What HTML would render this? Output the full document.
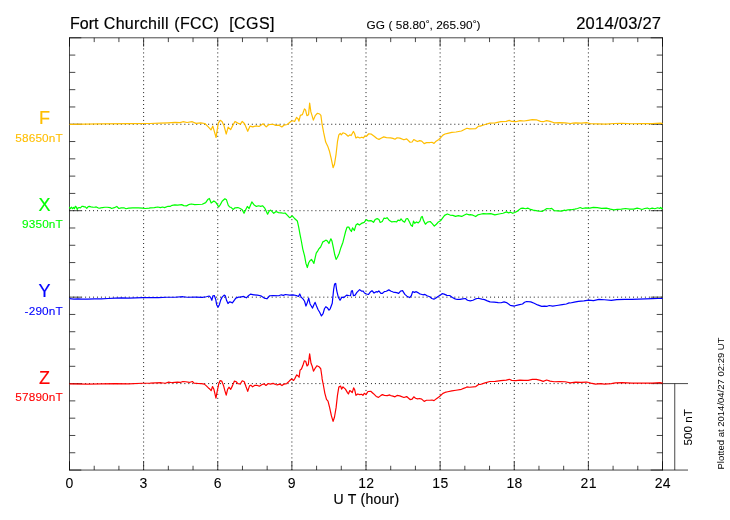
<!DOCTYPE html>
<html lang="en"><head><meta charset="utf-8"><title>Fort Churchill (FCC) magnetogram 2014/03/27</title>
<style>html,body{margin:0;padding:0;background:#fff}body{width:730px;height:520px;overflow:hidden}</style></head>
<body>
<svg width="730" height="520" viewBox="0 0 730 520" style="display:block">
<rect width="730" height="520" fill="#fff"/>
<g stroke="#000" stroke-opacity="0.9" stroke-width="1" stroke-dasharray="1 2.9705"><line x1="143.62" y1="37.8" x2="143.62" y2="470.05" stroke-dashoffset="1.27"/><line x1="217.75" y1="37.8" x2="217.75" y2="470.05" stroke-dashoffset="1.27"/><line x1="291.88" y1="37.8" x2="291.88" y2="470.05" stroke-dashoffset="1.27"/><line x1="366" y1="37.8" x2="366" y2="470.05" stroke-dashoffset="1.27"/><line x1="440.12" y1="37.8" x2="440.12" y2="470.05" stroke-dashoffset="1.27"/><line x1="514.25" y1="37.8" x2="514.25" y2="470.05" stroke-dashoffset="1.27"/><line x1="588.38" y1="37.8" x2="588.38" y2="470.05" stroke-dashoffset="1.27"/><line x1="69.5" y1="124.25" x2="662.5" y2="124.25" stroke-dashoffset="0.3"/><line x1="69.5" y1="210.7" x2="662.5" y2="210.7" stroke-dashoffset="0.3"/><line x1="69.5" y1="297.15" x2="662.5" y2="297.15" stroke-dashoffset="0.3"/><line x1="69.5" y1="383.6" x2="662.5" y2="383.6" stroke-dashoffset="0.3"/></g>
<g stroke="#000" stroke-opacity="0.72" stroke-width="1"><line x1="69.5" y1="37.3" x2="69.5" y2="470.55"/><line x1="662.5" y1="37.3" x2="662.5" y2="470.55"/><line x1="69.5" y1="37.8" x2="662.5" y2="37.8"/><line x1="69.5" y1="470.05" x2="662.5" y2="470.05"/><line x1="69.5" y1="37.8" x2="69.5" y2="46.6"/><line x1="69.5" y1="470.05" x2="69.5" y2="461.25"/><line x1="94.21" y1="37.8" x2="94.21" y2="42.1"/><line x1="94.21" y1="470.05" x2="94.21" y2="465.75"/><line x1="118.92" y1="37.8" x2="118.92" y2="42.1"/><line x1="118.92" y1="470.05" x2="118.92" y2="465.75"/><line x1="143.62" y1="37.8" x2="143.62" y2="46.6"/><line x1="143.62" y1="470.05" x2="143.62" y2="461.25"/><line x1="168.33" y1="37.8" x2="168.33" y2="42.1"/><line x1="168.33" y1="470.05" x2="168.33" y2="465.75"/><line x1="193.04" y1="37.8" x2="193.04" y2="42.1"/><line x1="193.04" y1="470.05" x2="193.04" y2="465.75"/><line x1="217.75" y1="37.8" x2="217.75" y2="46.6"/><line x1="217.75" y1="470.05" x2="217.75" y2="461.25"/><line x1="242.46" y1="37.8" x2="242.46" y2="42.1"/><line x1="242.46" y1="470.05" x2="242.46" y2="465.75"/><line x1="267.17" y1="37.8" x2="267.17" y2="42.1"/><line x1="267.17" y1="470.05" x2="267.17" y2="465.75"/><line x1="291.88" y1="37.8" x2="291.88" y2="46.6"/><line x1="291.88" y1="470.05" x2="291.88" y2="461.25"/><line x1="316.58" y1="37.8" x2="316.58" y2="42.1"/><line x1="316.58" y1="470.05" x2="316.58" y2="465.75"/><line x1="341.29" y1="37.8" x2="341.29" y2="42.1"/><line x1="341.29" y1="470.05" x2="341.29" y2="465.75"/><line x1="366" y1="37.8" x2="366" y2="46.6"/><line x1="366" y1="470.05" x2="366" y2="461.25"/><line x1="390.71" y1="37.8" x2="390.71" y2="42.1"/><line x1="390.71" y1="470.05" x2="390.71" y2="465.75"/><line x1="415.42" y1="37.8" x2="415.42" y2="42.1"/><line x1="415.42" y1="470.05" x2="415.42" y2="465.75"/><line x1="440.12" y1="37.8" x2="440.12" y2="46.6"/><line x1="440.12" y1="470.05" x2="440.12" y2="461.25"/><line x1="464.83" y1="37.8" x2="464.83" y2="42.1"/><line x1="464.83" y1="470.05" x2="464.83" y2="465.75"/><line x1="489.54" y1="37.8" x2="489.54" y2="42.1"/><line x1="489.54" y1="470.05" x2="489.54" y2="465.75"/><line x1="514.25" y1="37.8" x2="514.25" y2="46.6"/><line x1="514.25" y1="470.05" x2="514.25" y2="461.25"/><line x1="538.96" y1="37.8" x2="538.96" y2="42.1"/><line x1="538.96" y1="470.05" x2="538.96" y2="465.75"/><line x1="563.67" y1="37.8" x2="563.67" y2="42.1"/><line x1="563.67" y1="470.05" x2="563.67" y2="465.75"/><line x1="588.38" y1="37.8" x2="588.38" y2="46.6"/><line x1="588.38" y1="470.05" x2="588.38" y2="461.25"/><line x1="613.08" y1="37.8" x2="613.08" y2="42.1"/><line x1="613.08" y1="470.05" x2="613.08" y2="465.75"/><line x1="637.79" y1="37.8" x2="637.79" y2="42.1"/><line x1="637.79" y1="470.05" x2="637.79" y2="465.75"/><line x1="662.5" y1="37.8" x2="662.5" y2="46.6"/><line x1="662.5" y1="470.05" x2="662.5" y2="461.25"/><line x1="69.5" y1="37.8" x2="81.3" y2="37.8"/><line x1="662.5" y1="37.8" x2="650.7" y2="37.8"/><line x1="69.5" y1="55.09" x2="75.3" y2="55.09"/><line x1="662.5" y1="55.09" x2="656.7" y2="55.09"/><line x1="69.5" y1="72.38" x2="75.3" y2="72.38"/><line x1="662.5" y1="72.38" x2="656.7" y2="72.38"/><line x1="69.5" y1="89.67" x2="75.3" y2="89.67"/><line x1="662.5" y1="89.67" x2="656.7" y2="89.67"/><line x1="69.5" y1="106.96" x2="75.3" y2="106.96"/><line x1="662.5" y1="106.96" x2="656.7" y2="106.96"/><line x1="69.5" y1="124.25" x2="81.3" y2="124.25"/><line x1="662.5" y1="124.25" x2="650.7" y2="124.25"/><line x1="69.5" y1="141.54" x2="75.3" y2="141.54"/><line x1="662.5" y1="141.54" x2="656.7" y2="141.54"/><line x1="69.5" y1="158.83" x2="75.3" y2="158.83"/><line x1="662.5" y1="158.83" x2="656.7" y2="158.83"/><line x1="69.5" y1="176.12" x2="75.3" y2="176.12"/><line x1="662.5" y1="176.12" x2="656.7" y2="176.12"/><line x1="69.5" y1="193.41" x2="75.3" y2="193.41"/><line x1="662.5" y1="193.41" x2="656.7" y2="193.41"/><line x1="69.5" y1="210.7" x2="81.3" y2="210.7"/><line x1="662.5" y1="210.7" x2="650.7" y2="210.7"/><line x1="69.5" y1="227.99" x2="75.3" y2="227.99"/><line x1="662.5" y1="227.99" x2="656.7" y2="227.99"/><line x1="69.5" y1="245.28" x2="75.3" y2="245.28"/><line x1="662.5" y1="245.28" x2="656.7" y2="245.28"/><line x1="69.5" y1="262.57" x2="75.3" y2="262.57"/><line x1="662.5" y1="262.57" x2="656.7" y2="262.57"/><line x1="69.5" y1="279.86" x2="75.3" y2="279.86"/><line x1="662.5" y1="279.86" x2="656.7" y2="279.86"/><line x1="69.5" y1="297.15" x2="81.3" y2="297.15"/><line x1="662.5" y1="297.15" x2="650.7" y2="297.15"/><line x1="69.5" y1="314.44" x2="75.3" y2="314.44"/><line x1="662.5" y1="314.44" x2="656.7" y2="314.44"/><line x1="69.5" y1="331.73" x2="75.3" y2="331.73"/><line x1="662.5" y1="331.73" x2="656.7" y2="331.73"/><line x1="69.5" y1="349.02" x2="75.3" y2="349.02"/><line x1="662.5" y1="349.02" x2="656.7" y2="349.02"/><line x1="69.5" y1="366.31" x2="75.3" y2="366.31"/><line x1="662.5" y1="366.31" x2="656.7" y2="366.31"/><line x1="69.5" y1="383.6" x2="81.3" y2="383.6"/><line x1="662.5" y1="383.6" x2="650.7" y2="383.6"/><line x1="69.5" y1="400.89" x2="75.3" y2="400.89"/><line x1="662.5" y1="400.89" x2="656.7" y2="400.89"/><line x1="69.5" y1="418.18" x2="75.3" y2="418.18"/><line x1="662.5" y1="418.18" x2="656.7" y2="418.18"/><line x1="69.5" y1="435.47" x2="75.3" y2="435.47"/><line x1="662.5" y1="435.47" x2="656.7" y2="435.47"/><line x1="69.5" y1="452.76" x2="75.3" y2="452.76"/><line x1="662.5" y1="452.76" x2="656.7" y2="452.76"/><line x1="69.5" y1="470.05" x2="81.3" y2="470.05"/><line x1="662.5" y1="470.05" x2="650.7" y2="470.05"/><line x1="662.5" y1="383.6" x2="688" y2="383.6"/><line x1="662.5" y1="470.05" x2="688" y2="470.05"/><line x1="674.75" y1="383.6" x2="674.75" y2="470.05"/></g>
<g fill="none" stroke-width="1.2" stroke-linejoin="round"><polyline points="69.5,124.3 85,124.1 100,123.9 130,123.6 150,123.5 160,123.2 168,122.8 175,122.4 180.2,122.67 182.94,121.71 187.05,122.53 192.25,121.71 195.95,123.35 200.75,122.8 204.86,123.49 208.28,126.91 211.02,129.93 212.8,126.09 216.09,137.46 218.28,123.08 220.2,120.34 221.98,121.43 224.04,125.82 226.23,134.04 228.15,127.19 230.61,129.65 232.94,125.13 234.99,121.43 237.73,123.08 240.47,124.17 242.25,121.43 244.58,123.76 247.73,131.3 250.06,126.09 252.8,126.91 256.23,125.82 258.97,126.5 263.08,123.76 266.23,126.91 268.56,124.72 272.94,124.23 275.68,125.32 279.1,125.19 281.84,126.97 283.9,125.19 287.32,124.5 290.75,121.49 292.8,120.8 294.58,121.49 296.5,117.38 298.01,118.75 298.97,121.21 300.34,115.32 302.39,114.64 304.45,108.88 305.54,109.84 306.91,115.73 308.56,114.64 309.65,102.99 310.88,111.9 311.98,115.32 313.35,120.12 315.41,115.32 317.46,113.27 319.52,113.95 320.88,115.32 321.98,123.54 323.62,132.45 325.68,142.04 327.73,146.15 329.38,150.94 331.16,158.47 333.08,167.73 334.45,164.31 336.09,154.04 337.46,141.71 338.83,134.86 340.2,133.49 341.3,134.86 342.94,132.8 345.41,133.76 348.15,136.23 349.79,134.86 351.16,135.54 353.35,131.43 354.58,133.49 355.95,138.01 357.73,136.91 359.79,138.01 361.84,137.19 363.49,137.87 364.86,135.82 366.5,136.23 368.69,133.76 371.43,134.17 374.17,136.23 376.91,138.56 378.97,139.38 381.02,138.28 383.76,136.91 386.5,137.6 390.61,137.87 392.94,138.42 394.99,139.24 397.05,137.73 399.79,138.15 403.9,139.79 406.64,138.83 410.06,142.25 412.12,141.98 413.76,139.52 415.54,140.61 417.6,141.57 419.65,140.61 421.71,141.16 424.17,143.62 426.5,142.67 429.93,142.53 431.98,142.25 434.04,143.35 436.09,141.16 438.83,139.52 440.88,137.46 442.94,135.13 444.99,134.04 447.73,133.35 451.84,132.39 455.95,131.98 461.43,131.02 464.86,129.24 466.91,128.28 469.65,128.83 475.82,128.56 478.56,126.09 480.2,126.09 484.31,124.72 489.79,123.08 495.27,122.8 500.75,121.71 506.23,121.43 509.24,120.34 511.71,121.43 515.82,121.71 519.93,120.61 524.04,121.02 528.15,120.34 532.25,119.65 536.36,119.79 540.47,121.43 543.21,121.71 546.64,120.61 550.06,121.43 554.17,122.8 559.65,122.67 565.13,122.8 570.61,123.49 572.94,123.08 575.68,122.8 581.16,123.08 586.64,122.67 590.75,123.76 597.6,123.9 605.82,124.04 614.04,123.49 622.25,123.35 631.84,123.76 641.43,123.62 652.39,123.62 660.61,123.08 662.67,123.62" stroke="#ffbe00"/>
<polyline points="69.32,206.95 70.35,208.68 71.5,207.24 72.54,208.68 73.52,207.41 74.38,208.68 75.41,206.26 76.39,207.24 77.26,209.54 78.12,207.82 79.27,207.53 80.42,207.82 81.86,206.38 83.01,206.26 84.16,206.84 85.31,206.95 86.75,208.39 88.19,206.67 89.34,206.38 91.06,206.84 92.79,207.07 94.52,207.24 96.24,206.95 97.97,207.82 99.41,208.22 100.85,207.82 102.57,207.53 104.87,207.24 107.18,207.24 110.05,207.53 111.57,208.49 114.31,207.67 116.78,206.43 118.83,208.49 121.16,207.8 123.9,207.8 125.95,208.76 128.69,208.08 132.8,207.8 138.28,207.8 142.39,208.08 145.13,208.49 149.24,208.08 150.2,207.8 154.31,207.67 157.73,206.98 160.47,207.67 162.53,206.98 164.58,207.67 168.01,206.3 170.06,206.43 172.12,205.34 174.86,204.93 177.6,205.06 181.71,204.65 183.76,205.61 186.5,205.88 188.56,204.65 191.3,203.97 194.72,204.65 198.15,204.52 202.25,204.24 205.68,202.6 207.73,199.58 209.38,198.49 211.16,203.01 213.9,200.95 215.68,202.19 217.32,204.65 218.69,206.98 220.34,204.65 222.12,201.23 224.86,198.76 226.5,199.86 228.28,205.34 229.65,206.98 231.02,207.39 233.08,209.45 235.13,207.8 237.87,207.53 240.2,208.49 242.25,209.86 244.04,213.28 245.95,209.17 247.32,206.43 249.1,208.49 251.84,201.91 253.9,204.65 256.36,206.43 258.69,205.75 260.75,206.43 262.53,205.75 264.58,207.8 266.23,211.23 267.6,214.24 269.24,210.95 270.61,210.13 272.39,211.91 273.76,213.28 276.09,211.5 278.56,212.6 281.3,212.87 283.35,213.28 285.13,213.01 287.46,215.34 289.52,217.67 290.2,217.53 292.25,215.88 294.31,218.21 297.32,220.95 298.69,227.12 300.06,234.65 301.43,241.5 302.8,249.04 304.58,255.88 305.95,263.42 307.32,267.53 308.69,262.73 310.06,260.68 311.43,259.31 312.8,261.36 313.9,263.42 315.13,257.94 316.23,253.15 317.6,251.09 318.97,248.76 320.61,246.98 322.8,241.91 324.45,241.09 325.82,240.13 327.46,241.09 328.97,243.56 329.93,241.09 330.88,238.76 331.98,241.09 333.35,247.67 334.72,254.52 336.09,259.31 337.46,257.25 339.24,253.15 340.88,247.67 342.94,242.19 344.31,236.71 345.68,231.23 347.05,227.12 348.83,227.12 350.2,229.86 351.43,231.5 352.53,227.8 354.31,230.54 355.95,225.06 357.6,223.69 359.38,225.06 361.43,223.42 364.17,222.32 366.23,219.58 368.28,220.95 371.02,220.54 373.49,222.32 375.13,219.58 377.19,218.62 378.97,219.58 380.2,222.46 382.25,221.5 384.04,218.08 385.68,218.49 387.05,217.67 389.1,220.13 391.84,221.91 394.58,221.5 396.64,221.91 398.01,220.13 400.06,220.54 401.02,218.76 402.8,221.09 404.58,222.19 406.23,218.76 407.6,218.49 409.24,221.5 411.02,225.2 412.39,226.3 413.49,221.09 414.72,223.28 416.5,221.91 418.28,222.87 419.93,221.09 421.3,216.98 422.25,216.43 423.35,220.13 425.41,224.24 427.46,222.19 430.2,221.5 432.25,223.56 434.31,226.02 436.36,224.24 438.42,221.91 440.47,220.82 442.53,218.08 444.58,215.34 447.32,213.97 450.06,215.06 452.8,215.34 455.54,216.43 458.28,215.61 461.71,216.43 464.45,214.93 466.5,213.97 469.24,214.93 470.2,214.65 472.94,215.2 475.68,216.57 477.73,214.93 480.47,214.24 483.21,213.56 486.64,213.97 490.75,213.56 494.86,214.93 498.97,213.97 503.08,213.28 506.5,211.91 508.56,212.87 510.61,212.19 512.67,213.28 514.72,212.46 517.46,211.09 520.88,208.35 522.94,208.08 525.68,208.76 527.73,208.08 530.47,209.45 533.21,210.13 537.32,210.82 542.12,211.5 544.86,209.86 546.91,208.49 549.65,208.76 551.71,208.35 554.04,210.54 557.87,210.82 561.3,211.09 564.72,210.13 565.2,210.54 567.94,209.86 571.36,209.72 574.79,209.17 577.53,208.49 580.27,207.53 582.32,208.49 585.75,207.8 589.86,208.08 593.28,207.39 597.39,207.67 601.5,208.35 606.3,208.08 610.41,209.17 613.83,209.86 617.25,209.45 621.36,209.04 625.47,208.49 629.58,209.17 633.69,209.17 637.12,208.08 639.86,208.76 641.91,209.45 644.65,208.49 647.39,208.08 649.45,209.04 652.19,208.08 654.93,208.76 657.67,207.8 659.72,208.49 660.68,207.39 661.78,208.76 662.73,208.08" stroke="#00ff00"/>
<polyline points="69.52,298.64 73.9,299.19 78.01,298.91 82.12,299.19 87.6,299.19 94.45,298.91 101.3,298.78 108.15,298.5 114.99,298.09 121.84,297.82 128.69,298.09 135.54,297.82 142.39,297.54 149.24,297.54 150.2,297.54 158.42,297.54 166.64,297.27 174.86,297.27 183.08,296.72 187.19,297.27 195.41,297.13 202.25,297.41 206.36,296.72 209.1,296.04 210.47,297.13 211.84,300.28 212.94,295.76 214.31,295.49 215.68,299.19 216.64,304.67 218.01,307.13 219.38,304.67 220.75,299.87 222.12,297.13 224.17,295.08 225.27,295.76 226.64,300.56 228.01,303.57 229.38,301.93 231.02,302.2 232.39,302.88 234.04,300.56 235.82,298.09 238.56,297.13 240.2,297.13 243.62,296.45 246.36,297.82 248.42,295.76 250.47,294.12 253.9,294.8 257.32,295.08 260.75,295.76 264.17,298.09 266.91,298.78 269.65,295.76 273.08,295.49 278.56,295.76 281.3,294.8 283.35,295.35 285.41,294.53 289.52,295.08 292.94,294.8 296.36,295.49 298.42,296.45 299.79,293.98 301.16,297.13 303.21,299.19 304.58,301.24 305.95,306.04 307.32,302.61 308.69,298.09 310.06,303.98 311.43,306.31 312.53,308.09 313.9,304.67 315.13,302.34 316.5,306.04 318.01,309.46 319.65,312.2 321.43,315.9 323.08,313.57 324.45,308.78 325.82,306.72 327.6,308.09 328.97,310.15 330.2,308.78 332.25,303.3 333.62,289.6 334.58,284.12 335.68,283.43 336.78,290.97 338.42,297.54 340.06,300.28 341.84,297.13 343.9,297.54 346.64,295.08 348.69,295.49 350.47,295.76 351.43,290.97 352.39,290.69 353.49,295.76 355.13,295.08 356.91,292.34 359.65,289.6 361.71,291.24 363.08,290.97 364.45,293.02 366.5,293.98 368.56,294.39 370.61,291.65 371.98,290.69 374.04,293.02 376.09,291.65 377.46,292.06 378.83,290.97 380.88,293.43 382.25,293.43 384.31,291.65 386.36,291.24 388.83,289.87 391.16,291.24 393.21,292.06 396.64,292.61 398.69,293.43 400.75,290.97 402.53,290.69 404.86,294.39 406.91,296.17 409.65,297.54 411.3,295.76 412.67,291.65 414.45,292.34 416.23,291.65 417.87,292.61 419.93,293.98 420.2,293.98 422.94,294.8 424.99,294.39 427.05,295.76 429.79,296.72 431.84,298.5 433.9,299.19 435.95,298.09 438.01,296.45 440.47,295.08 442.12,293.71 444.17,294.12 446.91,295.35 449.65,295.49 452.39,297.54 455.13,298.91 457.19,299.46 459.93,299.46 462.67,298.91 465.41,298.5 467.46,300.28 470.2,300.83 472.94,300.28 474.99,299.19 477.05,298.5 479.1,298.5 481.84,299.19 484.58,299.6 487.32,300.83 490.06,301.93 494.17,302.2 498.28,302.61 501.02,302.75 504.04,301.93 506.5,302.61 509.24,304.39 510.2,305.35 514.31,306.04 518.42,304.94 522.53,303.98 524.58,302.2 526.64,301.52 530.75,301.93 534.17,303.3 537.6,304.94 541.71,306.31 544.45,306.04 547.19,306.31 549.24,305.49 552.67,306.04 556.78,305.49 562.25,304.67 566.36,303.98 569.1,302.88 570.2,303.02 574.31,302.2 578.42,301.38 583.9,300.83 588.69,300.15 593.49,300.56 598.97,299.46 604.45,299.73 611.3,300.28 616.78,299.6 624.99,299.46 631.84,299.32 638.69,299.19 645.54,298.91 652.39,298.64 657.87,298.5 662.67,298.5" stroke="#0000ff"/>
<polyline points="69.52,383.82 87.6,384.09 101.3,383.82 114.99,383.54 128.69,383.82 142.39,383.27 150.2,383.13 155.68,382.86 161.16,382.72 165.27,383.27 168.69,382.17 172.12,382.72 177.6,382.17 180.34,382.45 182.8,381.49 185.82,381.76 189.24,382.45 192.39,381.49 194.04,383.13 197.46,383.41 201.57,383.54 204.31,384.09 206.36,385.87 208.42,387.93 209.79,389.02 211.16,390.67 212.53,386.56 213.9,389.3 215.95,398.2 217.32,390.67 218.69,384.09 220.06,380.67 221.71,381.08 223.49,385.46 224.86,390.67 226.23,395.19 227.6,389.3 228.97,387.24 230.75,389.3 232.39,385.87 234.45,381.08 236.23,381.76 237.87,383.54 239.93,383.82 240.2,384.09 242.25,380.8 244.31,381.76 245.95,386.56 247.73,391.35 249.52,385.87 250.88,385.19 252.53,386.83 254.58,385.46 257.32,385.46 259.38,386.15 262.12,384.5 264.17,383.82 265.95,385.46 268.28,383.54 270.34,384.09 273.08,383.41 275.54,384.5 277.19,384.91 279.65,384.09 281.98,385.6 284.04,384.09 286.78,383.54 289.52,380.8 291.57,379.02 293.62,380.39 294.99,378.34 296.64,374.91 297.73,375.6 299.1,377.24 300.06,370.12 301.43,369.02 302.94,365.32 304.31,360.8 305.68,361.21 307.05,366.01 308.28,364.64 309.65,353.95 311.02,363.27 312.12,366.01 313.49,371.21 315.27,368.06 316.91,365.73 318.97,366.69 320.75,368.75 321.98,376.97 322.12,378.9 323.49,385.75 324.86,393.28 326.5,399.45 328.01,401.09 329.65,407.67 331.43,415.88 333.08,421.36 334.45,417.25 336.09,407.67 337.46,395.34 338.83,387.12 340.61,386.02 341.57,389.17 342.94,386.84 345.41,389.17 347.46,392.6 348.42,393.97 349.79,390.54 351.16,391.5 352.25,392.6 353.62,387.8 354.72,389.86 355.95,395.34 357.73,393.97 359.79,394.65 361.57,394.24 362.94,395.34 364.31,393.28 365.95,394.65 368.01,391.5 370.75,391.23 373.49,393.69 376.23,396.43 378.56,397.39 381.02,395.34 382.39,394.65 384.45,395.34 387.19,395.61 389.93,394.93 390.2,395.46 392.94,396.15 394.99,396.83 397.05,395.46 399.79,395.87 403.9,397.52 406.64,396.56 410.06,399.57 412.12,399.16 413.76,396.83 415.54,398.2 417.6,398.88 419.65,398.47 421.71,399.16 424.17,401.35 426.5,400.25 429.93,400.25 431.98,399.98 434.04,400.67 436.09,398.88 438.83,397.1 440.88,395.19 442.94,393.41 444.99,392.45 447.73,391.76 451.84,390.94 455.95,390.25 461.43,389.3 464.86,387.93 466.91,386.97 469.65,387.24 475.82,386.56 478.56,384.5 480.2,384.5 484.31,383.13 489.79,381.49 495.27,381.35 500.75,380.67 506.23,380.12 509.24,379.3 511.71,380.39 515.82,380.67 519.93,380.12 524.04,380.39 528.15,380.39 532.25,379.43 536.36,379.3 540.47,380.39 543.21,381.35 546.64,379.98 550.06,381.08 554.17,381.76 559.65,381.49 565.13,381.76 570.2,382.86 575.68,382.04 581.16,382.45 586.64,382.04 590.75,383.13 595.54,384.09 600.34,383.54 604.45,384.09 611.3,383.54 615.41,382.86 622.25,382.72 631.84,383.13 641.43,383.13 652.39,383.13 660.61,382.72 662.67,383.13" stroke="#ff0000"/></g>
<g font-family="'Liberation Sans', Arial, Helvetica, sans-serif" fill="#000" stroke="#000" stroke-width="0.18" style="white-space:pre"><text y="28.8" font-size="16"><tspan x="70.1">Fort </tspan><tspan x="103.8" letter-spacing="0.3">Churchill </tspan><tspan x="174.3" letter-spacing="0.25">(FCC)  </tspan><tspan x="229.2" letter-spacing="0.45">[CGS]</tspan></text><text x="366.6" y="28.8" font-size="11.8" letter-spacing="0.07" stroke-width="0.08">GG ( 58.80<tspan font-size="9.5" dy="-1.6">°</tspan><tspan dy="1.6">, 265.90</tspan><tspan font-size="9.5" dy="-1.6">°</tspan><tspan dy="1.6">)</tspan></text><text x="576.2" y="28.8" font-size="16.5" letter-spacing="0.25">2014/03/27</text><text x="69.3" y="487.6" font-size="14" text-anchor="middle" stroke-width="0.06">0</text><text x="143.4" y="487.6" font-size="14" text-anchor="middle" stroke-width="0.06">3</text><text x="217.6" y="487.6" font-size="14" text-anchor="middle" stroke-width="0.06">6</text><text x="291.7" y="487.6" font-size="14" text-anchor="middle" stroke-width="0.06">9</text><text x="366.3" y="487.6" font-size="14" letter-spacing="0.3" text-anchor="middle" stroke-width="0.06">12</text><text x="440.4" y="487.6" font-size="14" letter-spacing="0.3" text-anchor="middle" stroke-width="0.06">15</text><text x="514.5" y="487.6" font-size="14" letter-spacing="0.3" text-anchor="middle" stroke-width="0.06">18</text><text x="588.7" y="487.6" font-size="14" letter-spacing="0.3" text-anchor="middle" stroke-width="0.06">21</text><text x="662.8" y="487.6" font-size="14" letter-spacing="0.3" text-anchor="middle" stroke-width="0.06">24</text><text x="366.5" y="504" font-size="14" letter-spacing="0.25" text-anchor="middle">U T (hour)</text><text transform="translate(692.2,427.3) rotate(-90)" font-size="11.7" stroke-width="0.05" text-anchor="middle">500 nT</text><text transform="translate(723.9,403.5) rotate(-90)" font-size="9.5" stroke-width="0" text-anchor="middle">Plotted at 2014/04/27 02:29 UT</text><text x="44.4" y="124" font-size="18" text-anchor="middle" fill="#ffbe00" stroke="#ffbe00">F</text><text x="63.0" y="141.9" font-size="11.8" letter-spacing="0.18" text-anchor="end" fill="#ffbe00" stroke="#ffbe00" stroke-width="0.1">58650nT</text><text x="44.4" y="211.45" font-size="18" text-anchor="middle" fill="#00ff00" stroke="#00ff00">X</text><text x="63.0" y="228.3" font-size="11.8" letter-spacing="0.18" text-anchor="end" fill="#00ff00" stroke="#00ff00" stroke-width="0.1">9350nT</text><text x="44.4" y="296.9" font-size="18" text-anchor="middle" fill="#0000ff" stroke="#0000ff">Y</text><text x="63.0" y="314.6" font-size="11.8" letter-spacing="0.18" text-anchor="end" fill="#0000ff" stroke="#0000ff" stroke-width="0.1">-290nT</text><text x="44.4" y="384.45" font-size="18" text-anchor="middle" fill="#ff0000" stroke="#ff0000">Z</text><text x="63.0" y="401.3" font-size="11.8" letter-spacing="0.18" text-anchor="end" fill="#ff0000" stroke="#ff0000" stroke-width="0.1">57890nT</text></g>
</svg>
</body></html>
